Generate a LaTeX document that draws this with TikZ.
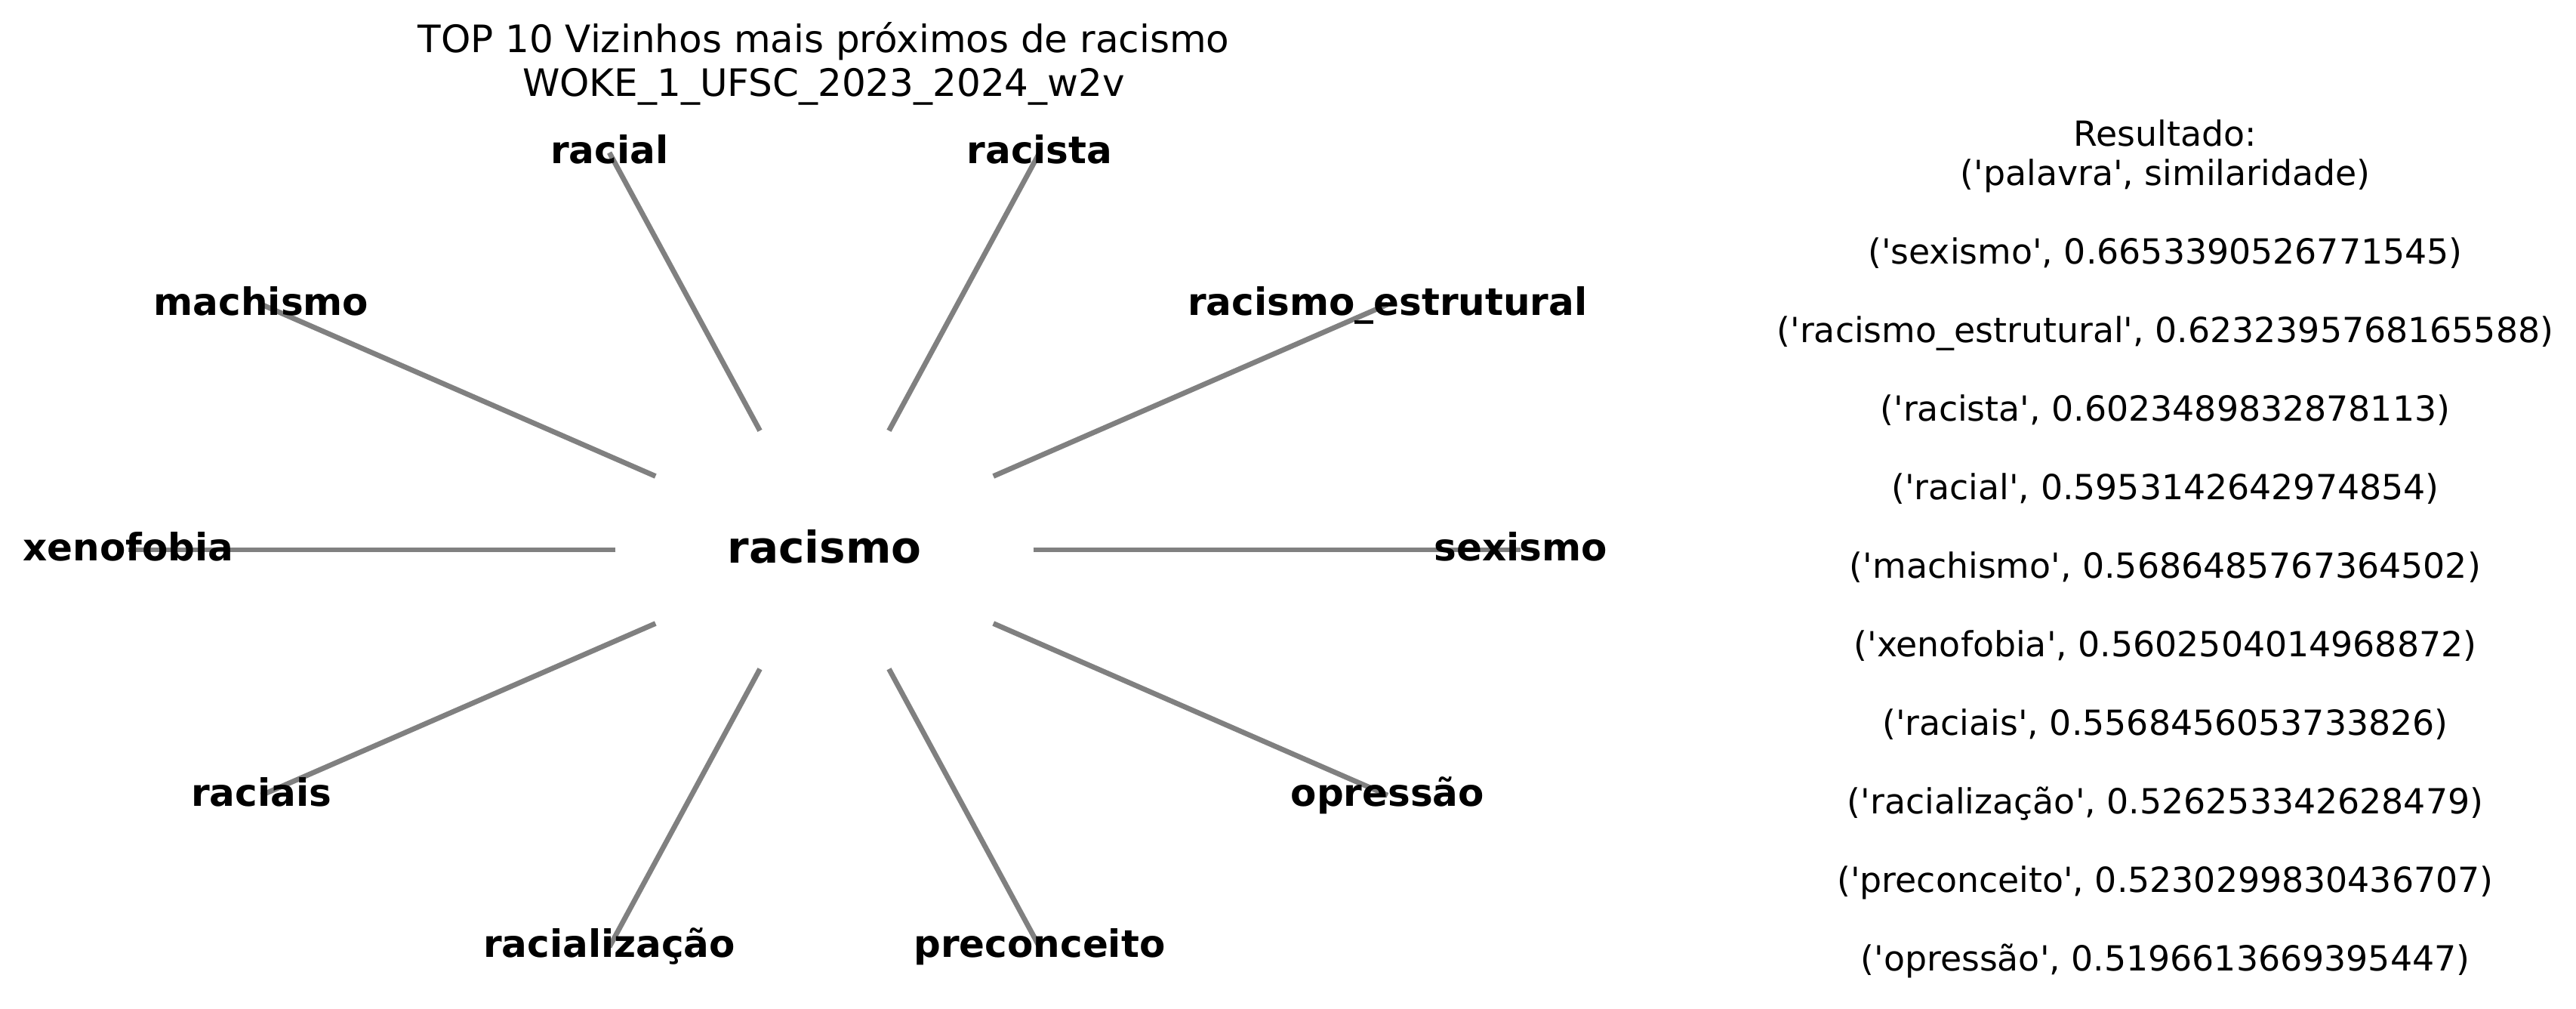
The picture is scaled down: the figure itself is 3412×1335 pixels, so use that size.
\documentclass[tikz,border=0pt]{standalone}
\usepackage{fontspec}
\setmainfont{DejaVu Sans}
\usetikzlibrary{calc}
\newcommand{\sq}{\textquotesingle}
\begin{document}
\begin{tikzpicture}[x=0.5pt,y=-0.5pt,
  edge/.style={draw=gray,line width=3.4pt},
  lbl/.style={anchor=base,inner sep=0pt,font=\fontsize{25}{30}\selectfont\bfseries},
  ctr/.style={anchor=base,inner sep=0pt,font=\fontsize{29}{35}\selectfont\bfseries},
  ttl/.style={anchor=base,inner sep=0pt,font=\fontsize{25}{30}\selectfont},
  res/.style={anchor=base,inner sep=0pt,font=\fontsize{22.9}{26}\selectfont}]
\path[use as bounding box,fill=white] (0,0) rectangle (3412,1335);
% geometry
\coordinate (c) at (1092,728);
\coordinate (p0) at (2014,728);
\coordinate (p1) at (1837.9,403.0);
\coordinate (p2) at (1376.9,202.1);
\coordinate (p3) at (807.1,202.1);
\coordinate (p4) at (346.1,403.0);
\coordinate (p5) at (170,728);
\coordinate (p6) at (346.1,1053.0);
\coordinate (p7) at (807.1,1253.9);
\coordinate (p8) at (1376.9,1253.9);
\coordinate (p9) at (1837.9,1053.0);
\foreach \i in {0,...,9} {
  \coordinate (q\i) at ($(c)!0.3!(p\i)$);
  \draw[edge] (q\i) -- (p\i);
}
% labels
\node[ctr] (racismo) at ([yshift=-8.5pt]c) {racismo};
\node[lbl] (sexismo) at ([yshift=-7pt]p0) {sexismo};
\node[lbl] (estrutural) at ([yshift=-7pt]p1) {racismo\_estrutural};
\node[lbl] (racista) at ([yshift=-7pt]p2) {racista};
\node[lbl] (racial) at ([yshift=-7pt]p3) {racial};
\node[lbl] (machismo) at ([yshift=-7pt]p4) {machismo};
\node[lbl] (xenofobia) at ([yshift=-7pt]p5) {xenofobia};
\node[lbl] (raciais) at ([yshift=-7pt]p6) {raciais};
\node[lbl] (racializacao) at ([yshift=-7pt]p7) {racialização};
\node[lbl] (preconceito) at ([yshift=-7pt]p8) {preconceito};
\node[lbl] (opressao) at ([yshift=-7pt]p9) {opressão};
% title
\node[ttl] (t1) at (1091,69) {TOP 10 Vizinhos mais próximos de racismo};
\node[ttl] (t2) at (1091,127) {WOKE\_1\_UFSC\_2023\_2024\_w2v};
% result list
\node[res] (r0) at (2868,193) {Resultado:};
\node[res] (r1) at (2868,245) {(\sq palavra\sq, similaridade)};
\node[res] (r2) at (2868,349) {(\sq sexismo\sq, 0.6653390526771545)};
\node[res] (r3) at (2868,453) {(\sq racismo\_estrutural\sq, 0.6232395768165588)};
\node[res] (r4) at (2868,557) {(\sq racista\sq, 0.6023489832878113)};
\node[res] (r5) at (2868,661) {(\sq racial\sq, 0.5953142642974854)};
\node[res] (r6) at (2868,765) {(\sq machismo\sq, 0.5686485767364502)};
\node[res] (r7) at (2868,869) {(\sq xenofobia\sq, 0.5602504014968872)};
\node[res] (r8) at (2868,973) {(\sq raciais\sq, 0.5568456053733826)};
\node[res] (r9) at (2868,1077) {(\sq racialização\sq, 0.526253342628479)};
\node[res] (r10) at (2868,1181) {(\sq preconceito\sq, 0.5230299830436707)};
\node[res] (r11) at (2868,1285) {(\sq opressão\sq, 0.5196613669395447)};
\end{tikzpicture}
\end{document}
